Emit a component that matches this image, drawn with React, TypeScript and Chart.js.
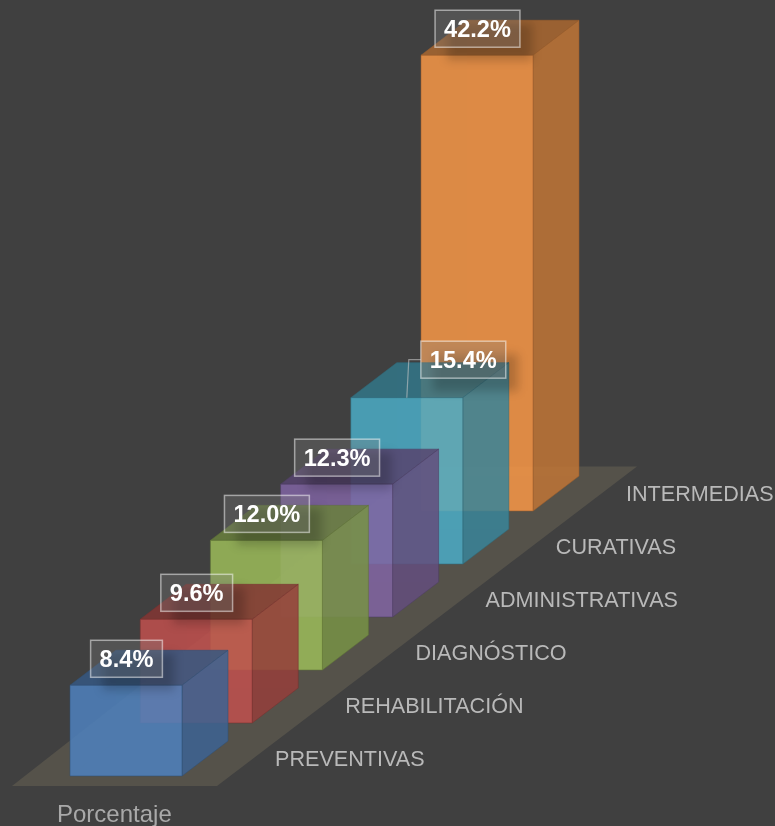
import React, { useEffect, useRef } from "react";
import { Chart, BarController, BarElement, CategoryScale, LinearScale } from "chart.js";

// Categories run from the front of the floor to the back.
const categories = ["PREVENTIVAS", "REHABILITACIÓN", "DIAGNÓSTICO", "ADMINISTRATIVAS", "CURATIVAS", "INTERMEDIAS"];
const percentages = [8.4, 9.6, 12.0, 12.3, 15.4, 42.2];
const seriesName = "Porcentaje";
const barColors = ["#4F81BD", "#C0504D", "#9BBB59", "#8064A2", "#4BACC6", "#F79646"];

const BACKGROUND = "#404040";
const FLOOR = "#55524A";
const FACE_ALPHA = 0.85;
const SIDE_SHADE = 0.77;
const TOP_SHADE = 0.68;
const DEPTH_X = 46; // how far a box recedes to the right
const DEPTH_Y = -35; // and upwards
const ROW_RISE = -53; // vertical climb from one category row to the next
const FONT = '"Liberation Sans", Arial, sans-serif';

const rgba = (hex: string, factor: number, alpha: number) => {
  const n = parseInt(hex.slice(1), 16);
  const c = [(n >> 16) & 255, (n >> 8) & 255, n & 255].map((v) => Math.round(v * factor));
  return `rgba(${c[0]},${c[1]},${c[2]},${alpha})`;
};

const poly = (ctx: CanvasRenderingContext2D, pts: number[][]) => {
  ctx.beginPath();
  pts.forEach(([x, y], i) => (i ? ctx.lineTo(x, y) : ctx.moveTo(x, y)));
  ctx.closePath();
};

// Geometry of one box, taken from the bar element the scales positioned.
const boxOf = (el: any, index: number) => {
  const { x, y, base, width } = el.getProps(["x", "y", "base", "width"], true);
  const rise = ROW_RISE * index;
  return { l: x - width / 2, r: x + width / 2, t: y + rise, b: base + rise };
};

// Bar controller that paints each bar as a translucent box, rear row first.
class Box3DController extends BarController {
  static id = "box3d";
  static defaults = BarController.defaults;
  static overrides = BarController.overrides;

  draw() {
    const ctx = this.chart.ctx;
    const bars = this.getMeta().data;
    ctx.save();
    for (let i = bars.length - 1; i >= 0; i--) {
      const { l, r, t, b } = boxOf(bars[i], i);
      const dx = DEPTH_X;
      const dy = DEPTH_Y;
      const color = barColors[i];
      ctx.lineWidth = 1;

      const faces: [number[][], number, number][] = [
        [[[l + dx, t + dy], [r + dx, t + dy], [r + dx, b + dy], [l + dx, b + dy]], 0.9, 0.08],
        [[[l, t], [l + dx, t + dy], [l + dx, b + dy], [l, b]], 0.9, 0.05],
        [[[l, b], [r, b], [r + dx, b + dy], [l + dx, b + dy]], 0.9, 0.05],
        [[[l, t], [r, t], [r + dx, t + dy], [l + dx, t + dy]], TOP_SHADE, FACE_ALPHA],
        [[[r, t], [r + dx, t + dy], [r + dx, b + dy], [r, b]], SIDE_SHADE, FACE_ALPHA],
        [[[l, t], [r, t], [r, b], [l, b]], 1, FACE_ALPHA],
      ];
      faces.forEach(([pts, shade, alpha], f) => {
        poly(ctx, pts);
        ctx.fillStyle = rgba(color, shade, alpha);
        ctx.fill();
        if (f >= 3) {
          ctx.strokeStyle = rgba(color, 0.62, 0.55);
          ctx.stroke();
        }
      });
    }
    ctx.restore();
  }
}

Chart.register(Box3DController, BarElement, CategoryScale, LinearScale);

// Sloped floor under the rows.
const floorPlugin = {
  id: "floor",
  beforeDatasetsDraw(chart: any) {
    const bars = chart.getDatasetMeta(0).data;
    const first = boxOf(bars[0], 0);
    const last = boxOf(bars[bars.length - 1], bars.length - 1);
    const ctx = chart.ctx;
    ctx.save();
    poly(ctx, [
      [first.l - 58, first.b + 10],
      [first.r + 35, first.b + 10],
      [last.r + 104, last.b - 44.5],
      [last.l - 1, last.b - 44.5],
    ]);
    ctx.fillStyle = FLOOR;
    ctx.fill();
    ctx.restore();
  },
};

const valueText = (v: number) => `${v.toFixed(1)}%`;

// Row names, the series name and the value tags.
const textPlugin = {
  id: "boxText",
  afterDatasetsDraw(chart: any) {
    const bars = chart.getDatasetMeta(0).data;
    const ctx: CanvasRenderingContext2D = chart.ctx;
    const boxes = bars.map((el: any, i: number) => boxOf(el, i));
    ctx.save();

    ctx.textBaseline = "alphabetic";
    ctx.textAlign = "left";
    ctx.font = `21.6px ${FONT}`;
    ctx.fillStyle = "#B9B9B9";
    chart.data.labels.forEach((name: string, i: number) => {
      ctx.fillText(name, boxes[i].r + 93, boxes[i].b - 10);
    });
    ctx.font = `24px ${FONT}`;
    ctx.fillStyle = "#A9A9A9";
    ctx.fillText(seriesName, boxes[0].l - 13, boxes[0].b + 46);

    ctx.font = `bold 23.6px ${FONT}`;
    const tags = boxes.map((box: any, i: number) => {
      const moved = i === 4;
      const cx = (box.l + box.r) / 2 + (moved ? 56.5 : 0.5);
      const cy = box.t + (moved ? -38 : -26.5);
      const text = valueText(percentages[i]);
      const w = ctx.measureText(text).width + 18;
      return { cx, cy, w, h: 37, text, box };
    });

    // Soft drop shadows only fall on the boxes, not on the backdrop.
    ctx.save();
    ctx.beginPath();
    boxes.forEach(({ l, r, t, b }: any) => {
      ctx.moveTo(l, t);
      ctx.lineTo(l + DEPTH_X, t + DEPTH_Y);
      ctx.lineTo(r + DEPTH_X, t + DEPTH_Y);
      ctx.lineTo(r + DEPTH_X, b + DEPTH_Y);
      ctx.lineTo(r, b);
      ctx.lineTo(l, b);
      ctx.closePath();
    });
    ctx.clip();
    ctx.filter = "blur(5px)";
    ctx.fillStyle = "rgba(0,0,0,0.2)";
    tags.forEach((t: any) => ctx.fillRect(t.cx - t.w / 2 + 12, t.cy - t.h / 2 + 13, t.w, t.h));
    ctx.restore();

    // Leader from the moved tag back to its box.
    const leader = tags[4];
    ctx.strokeStyle = "rgba(200,200,200,0.6)";
    ctx.lineWidth = 1.2;
    ctx.beginPath();
    ctx.moveTo((leader.box.l + leader.box.r) / 2, leader.box.t);
    ctx.lineTo((leader.box.l + leader.box.r) / 2 + 2, leader.cy);
    ctx.lineTo(leader.cx - leader.w / 2, leader.cy);
    ctx.stroke();

    ctx.textAlign = "center";
    ctx.textBaseline = "middle";
    tags.forEach((t: any) => {
      const x = t.cx - t.w / 2;
      const y = t.cy - t.h / 2;
      ctx.fillStyle = "rgba(128,128,128,0.3)";
      ctx.fillRect(x, y, t.w, t.h);
      ctx.strokeStyle = "rgba(255,255,255,0.5)";
      ctx.lineWidth = 1.5;
      ctx.strokeRect(x, y, t.w, t.h);
      ctx.fillStyle = "#FFFFFF";
      ctx.fillText(t.text, t.cx, t.cy + 2);
    });
    ctx.restore();
  },
};

export default function App() {
  const ref = useRef<HTMLCanvasElement>(null);
  useEffect(() => {
    if (!ref.current) return;
    const chart = new Chart(ref.current, {
      type: "box3d" as any,
      data: {
        labels: categories,
        datasets: [{ label: seriesName, data: percentages, barThickness: 112, clip: false } as any],
      },
      options: {
        animation: false,
        responsive: false,
        layout: { padding: { left: 90.9, right: 262.9, top: 236, bottom: 50 } },
        plugins: { legend: { display: false }, tooltip: { enabled: false } },
        scales: {
          x: { type: "category", display: false, offset: true },
          y: { type: "linear", display: false, min: 0, max: 50 },
        },
      },
      plugins: [floorPlugin, textPlugin],
    });
    return () => chart.destroy();
  }, []);
  return (
    <div style={{ position: "absolute", left: 0, top: 0, width: 775, height: 826, background: BACKGROUND, overflow: "hidden" }}>
      <canvas ref={ref} width={775} height={826} style={{ display: "block" }} />
    </div>
  );
}
